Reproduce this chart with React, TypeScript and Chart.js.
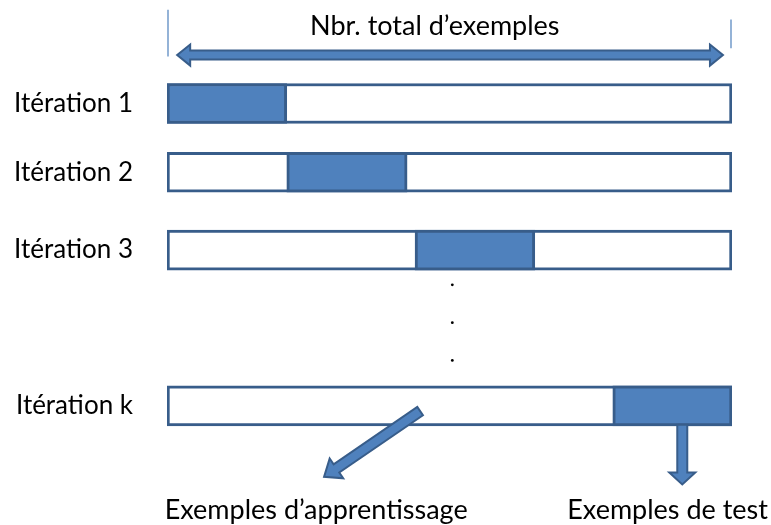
import React, { useEffect, useRef } from "react";
import { Chart, registerables } from "chart.js";

Chart.register(...registerables);

// ---- data ----
const rowLabels = ["Itération 1", "Itération 2", "Itération 3", "Itération k"];
const rowPos = [1, 1.91, 2.94, 5];
const testStart = [0, 21.2, 43.9, 78.9];
const testEnd = [21.2, 42.5, 65.1, 100];
const totalStart = 0;
const totalEnd = 100;
const dotPos = [3.4, 3.9, 4.4];
const dotX = 50.5;
const titleText = "Nbr. total d’exemples";
const trainLabel = "Exemples d’apprentissage";
const testLabel = "Exemples de test";

const FILL = "#4F81BD";
const STROKE = "#385D8A";
const FONT = "Lato, 'Open Sans', sans-serif";

function drawArrow(
  ctx: CanvasRenderingContext2D,
  x1: number, y1: number, x2: number, y2: number,
  shaft: number, headW: number, headL: number, both: boolean
) {
  const dx = x2 - x1, dy = y2 - y1;
  const len = Math.hypot(dx, dy);
  const ux = dx / len, uy = dy / len;
  const nx = -uy, ny = ux;
  const s = shaft / 2, h = headW / 2;
  const pts: [number, number][] = [];
  const P = (t: number, n: number): [number, number] => [x1 + ux * t + nx * n, y1 + uy * t + ny * n];
  if (both) {
    pts.push(P(0, 0), P(headL, -h), P(headL, -s));
  } else {
    pts.push(P(0, -s));
  }
  pts.push(P(len - headL, -s), P(len - headL, -h), P(len, 0), P(len - headL, h), P(len - headL, s));
  if (both) {
    pts.push(P(headL, s), P(headL, h));
  } else {
    pts.push(P(0, s));
  }
  ctx.save();
  ctx.beginPath();
  ctx.moveTo(pts[0][0], pts[0][1]);
  for (let i = 1; i < pts.length; i++) ctx.lineTo(pts[i][0], pts[i][1]);
  ctx.closePath();
  ctx.fillStyle = FILL;
  ctx.fill();
  ctx.lineWidth = 2;
  ctx.strokeStyle = STROKE;
  ctx.lineJoin = "miter";
  ctx.stroke();
  ctx.restore();
}

const annotations = {
  id: "cvAnnotations",
  afterDraw(chart: any) {
    const ctx: CanvasRenderingContext2D = chart.ctx;
    const xs = chart.scales.x;
    const ys = chart.scales.y;
    const X = (v: number) => xs.getPixelForValue(v);
    const Y = (v: number) => ys.getPixelForValue(v);

    // top span markers
    ctx.save();
    ctx.strokeStyle = FILL;
    ctx.lineWidth = 1.2;
    ctx.beginPath();
    ctx.moveTo(X(totalStart) + 1, Y(-0.24));
    ctx.lineTo(X(totalStart) + 1, Y(0.38));
    ctx.moveTo(X(totalEnd) - 1, Y(-0.11));
    ctx.lineTo(X(totalEnd) - 1, Y(0.27));
    ctx.stroke();
    ctx.restore();

    // double-headed arrow
    drawArrow(ctx, X(1.8), Y(0.36), X(98.4), Y(0.36), 9, 21, 13, true);

    // arrows from last iteration
    drawArrow(ctx, X(44.8), Y(5.07), X(27.8), Y(5.94), 10, 24, 15, false);
    drawArrow(ctx, X(91.2), Y(5.25), X(91.2), Y(6.04), 10, 26, 12, false);

    // texts
    ctx.save();
    ctx.fillStyle = "#000";
    ctx.textAlign = "center";
    ctx.textBaseline = "alphabetic";
    ctx.font = `27px ${FONT}`;
    ctx.fillText(titleText, X(47.4), 35);
    ctx.fillText(trainLabel, X(26.4), 519);
    ctx.fillText(testLabel, X(88.6), 519);
    ctx.restore();
  },
};

export default function App() {
  const ref = useRef<HTMLCanvasElement | null>(null);
  useEffect(() => {
    document.body.style.margin = "0";
    const canvas = ref.current;
    if (!canvas) return;
    const chart = new Chart(canvas, {
      type: "bar",
      data: {
        datasets: [
          {
            type: "scatter" as any,
            label: "dots",
            data: dotPos.map((y) => ({ x: dotX, y })),
            pointRadius: 1.4,
            pointBackgroundColor: "#000",
            pointBorderWidth: 0,
            xAxisID: "x",
            yAxisID: "y",
          } as any,
          {
            label: "Exemples de test",
            data: rowPos.map((y, i) => ({ y, x: [testStart[i], testEnd[i]] })),
            backgroundColor: FILL,
            borderColor: STROKE,
            borderWidth: 3,
            borderSkipped: false,
            barThickness: 40,
            grouped: false,
          } as any,
          {
            label: "Exemples d’apprentissage",
            data: rowPos.map((y) => ({ y, x: [totalStart, totalEnd] })),
            backgroundColor: "#FFFFFF",
            borderColor: STROKE,
            borderWidth: 3,
            borderSkipped: false,
            barThickness: 40,
            grouped: false,
          } as any,
        ],
      },
      options: {
        indexAxis: "y",
        animation: false,
        responsive: true,
        maintainAspectRatio: false,
        layout: { padding: { left: 0, right: 39, top: 0, bottom: 0 } },
        plugins: {
          legend: { display: false },
          tooltip: { enabled: false },
          title: { display: false },
        },
        scales: {
          x: {
            type: "linear",
            min: 0,
            max: 100,
            offset: false,
            display: false,
          },
          y: {
            type: "linear",
            reverse: true,
            offset: false,
            bounds: "data",
            min: -0.316,
            max: 6.524,
            grid: { display: false, offset: false },
            border: { display: false },
            afterBuildTicks: (scale: any) => {
              scale.ticks = rowPos.map((v) => ({ value: v }));
            },
            afterFit: (scale: any) => {
              scale.width = 167;
              scale.paddingTop = 0;
              scale.paddingBottom = 0;
            },
            ticks: {
              autoSkip: false,
              crossAlign: "near",
              padding: 26,
              color: "#000",
              font: { family: FONT, size: 26 },
              callback: (_v: any, i: number) => rowLabels[i],
            },
          },
        },
      } as any,
      plugins: [annotations],
    });
    return () => chart.destroy();
  }, []);
  return (
    <div style={{ width: 771, height: 525, position: "relative" }}>
      <canvas ref={ref} />
    </div>
  );
}
